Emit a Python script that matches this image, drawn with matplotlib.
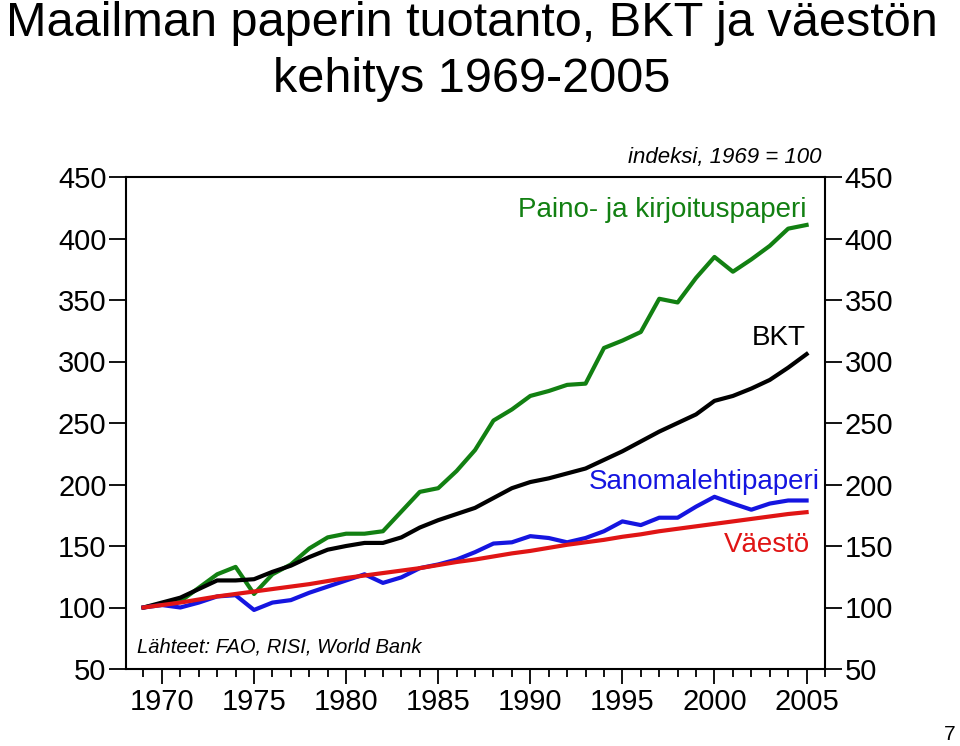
#!/usr/bin/env python3
# -*- coding: utf-8 -*-

import numpy as np
import matplotlib
matplotlib.use('Agg')
import matplotlib.pyplot as plt
from matplotlib.ticker import MultipleLocator

plt.rcParams['font.family'] = ['Liberation Sans', 'DejaVu Sans']

years = list(range(1969, 2006))

paino = [100, 103, 105, 116, 127, 133, 111, 127, 135, 148, 157, 160, 160, 162,
         178, 194, 197, 211, 228, 252, 261, 272, 276, 281, 282, 311, 317, 324,
         351, 348, 368, 385, 373, 383, 394, 408, 411]

bkt = [100, 104, 108, 115, 122, 122, 123, 129, 134, 141, 147, 150, 152.5, 152.5,
       157, 165, 171, 176, 181, 189, 197, 202, 205, 209, 213, 220, 227, 235,
       243, 250, 257, 268, 272, 278, 285, 295, 306]

sanoma = [100, 102, 100, 104, 109, 110, 98, 104, 106, 112, 117, 122, 127, 120,
          124.5, 132, 135, 139, 145, 152, 153, 158, 156.5, 153, 156.5, 162, 170,
          167, 173, 173, 182, 190, 184.5, 179.5, 184.5, 187, 187]

vaesto = [100, 102, 104, 106.5, 109, 111, 113, 115, 117, 119, 121.5, 124, 126,
          128, 130, 132, 134.5, 137, 139, 141.5, 144, 146, 148.5, 151, 153, 155,
          157.5, 159.5, 162, 164, 166, 168, 170, 172, 174, 176, 177.5]

green = '#128012'
blue = '#1515e0'
red = '#e01515'

fig = plt.figure(figsize=(9.6, 7.46), dpi=100)
ax = fig.add_axes([126 / 960, 1 - 669 / 746, (825 - 126) / 960, (669 - 177) / 746])

ax.plot(years, paino, color=green, lw=3)
ax.plot(years, bkt, color='black', lw=3)
ax.plot(years, sanoma, color=blue, lw=3)
ax.plot(years, vaesto, color=red, lw=3)

ax.set_xlim(1968.05, 2006)
ax.set_ylim(50, 450)
ax.set_yticks(range(50, 451, 50))
ax.set_xticks(range(1970, 2006, 5))
ax.xaxis.set_minor_locator(MultipleLocator(1))
ax.tick_params(axis='y', which='both', direction='out', length=12, width=1.3,
               labelsize=21, left=True, right=True, labelleft=True, labelright=True,
               pad=2)
ax.tick_params(axis='x', which='major', direction='out', length=11, width=1.3,
               labelsize=21, pad=3)
ax.tick_params(axis='x', which='minor', direction='out', length=6, width=1.3)
for s in ax.spines.values():
    s.set_linewidth(1.5)


# texts placed in figure pixel coordinates
def label(x, y, s, **kw):
    fig.text(x / 960, 1 - y / 746, s, **kw)


label(472, 23, 'Maailman paperin tuotanto, BKT ja väestön', ha='center',
      va='center', fontsize=35)
label(472, 80, 'kehitys 1969-2005', ha='center', va='center', fontsize=35)

label(822, 158, 'indeksi, 1969 = 100', ha='right', va='center',
      fontsize=16, style='italic')
label(806, 210, 'Paino- ja kirjoituspaperi', ha='right', va='center',
      fontsize=20, color=green)
label(806, 338, 'BKT', ha='right', va='center', fontsize=20, color='black')
label(820, 482, 'Sanomalehtipaperi', ha='right', va='center', fontsize=20, color=blue)
label(810, 545, 'Väestö', ha='right', va='center', fontsize=20, color=red)
label(137, 647, 'Lähteet: FAO, RISI, World Bank', ha='left', va='center',
      fontsize=14.5, style='italic')
label(950, 735, '7', ha='center', va='center', fontsize=15)

fig.savefig('out.png', dpi=100)
